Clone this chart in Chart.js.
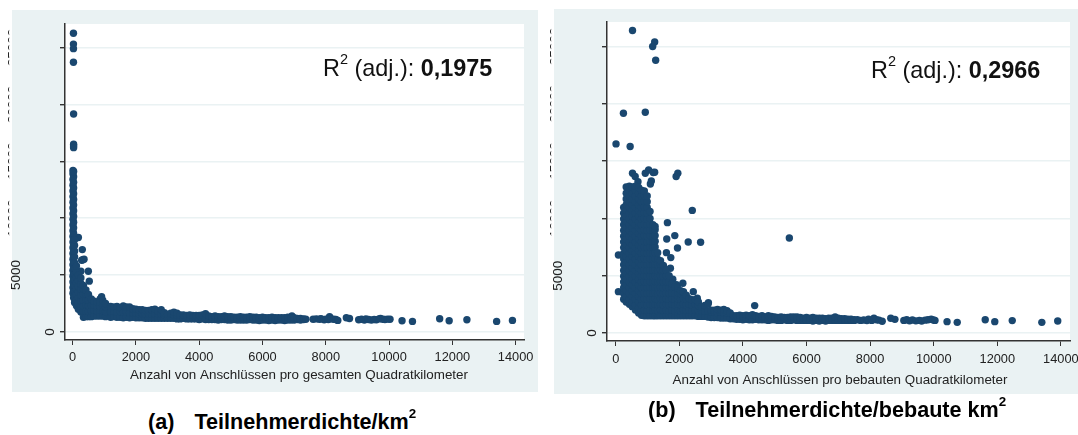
<!DOCTYPE html>
<html>
<head>
<meta charset="utf-8">
<script src="https://cdn.jsdelivr.net/npm/chart.js@4/dist/chart.umd.min.js"></script>
<style>
body { margin: 0; background: #fff; width: 1078px; height: 435px; overflow: hidden; font-family: 'Liberation Sans', Arial, sans-serif; }
canvas { position: absolute; }
#chartA { left: 0; top: 0; }
#chartB { left: 545px; top: 0; }
.note, .cap { position: absolute; white-space: pre; color: #000; line-height: 1; }
.note { font-size: 23.4px; color: #111; }
.cap { font-size: 21.6px; font-weight: bold; }
.cap span { margin-left: 20px; }
sup { font-size: 62%; line-height: 0; vertical-align: baseline; position: relative; top: -0.8em; }
</style>
</head>
<body>
<canvas id="chartA" width="540" height="395"></canvas>
<canvas id="chartB" width="533" height="400"></canvas>
<div class="note" style="left:323px;top:57px">R<sup>2</sup> (adj.): <b>0,1975</b></div>
<div class="note" style="left:871px;top:59px">R<sup>2</sup> (adj.): <b>0,2966</b></div>
<div class="cap" style="left:148px;top:411px">(a)<span>Teilnehmerdichte/km<sup>2</sup></span></div>
<div class="cap" style="left:648px;top:399px">(b)<span>Teilnehmerdichte/bebaute km<sup>2</sup></span></div>
<script>
const colorNavy = '#1a476f';
const colorPanel = '#eaf2f3';
const colorAxis = '#333333';

const xTicks = [0, 2000, 4000, 6000, 8000, 10000, 12000, 14000];
const yTicks = [0, 5000, 10000, 15000, 20000, 25000];
const xTitleA = 'Anzahl von Anschlüssen pro gesamten Quadratkilometer';
const xTitleB = 'Anzahl von Anschlüssen pro bebauten Quadratkilometer';

// ================ PANEL A: single points [x, y] =====================
const singlesA = [
    [25, 26250], [25, 25300], [25, 24900], [25, 23700], [30, 19150],
    [30, 16500], [30, 16350], [30, 16200],
    [180, 8300], [305, 7240], [285, 6300], [320, 6350], [360, 6400],
    [260, 5340], [495, 5340], [525, 4470], [915, 3100], [870, 2900],
    [6930, 1400], [8120, 1340], [8650, 1255], [8750, 1180],
    [10410, 990], [10740, 930], [11600, 1170], [11900, 990], [12460, 1080], [13400, 930], [13900, 1020]
];
// Dense part: every row is one x followed by its y values
const massA = [
    [10, 3400, 3900, 4400, 4900, 5400, 5900, 6400, 6900, 7400, 7900, 8400, 8900, 9400, 9900, 10400, 10900, 11400, 11900, 12400, 12900, 13400, 13900, 14200],
    [30, 3000, 3650, 4150, 4650, 5150, 5650, 6150, 6650, 7150, 7650, 8150, 8650, 9150, 9650, 10150, 10650, 11150, 11650, 12150, 12650, 13150, 13650, 14100],
    [60, 2600, 3100, 3600, 4100, 4600, 5100, 5600, 6100, 6600, 7100, 7600, 8100],
    [120, 2300, 2800, 3300, 3800, 4300, 4800, 5300, 5800],
    [180, 2000, 2500, 3000, 3500, 4000, 4500, 5000],
    [260, 1750, 2250, 2750, 3250, 3750, 4250, 4750],
    [340, 1300, 1800, 2300, 2800, 3300, 3800, 4100],
    [420, 1350, 1850, 2350, 2850, 3350, 3700],
    [500, 1350, 1800, 2300, 2800, 3300],
    [590, 1350, 1850, 2350, 2900],
    [680, 1400, 1900, 2300, 2700],
    [770, 1400, 1850, 2250, 2650],
    [860, 1400, 1900, 2300, 2600],
    [950, 1400, 1850, 2350, 2800],
    [1040, 1350, 1800, 2200, 2500],
    [1200, 1300, 1750, 2250],
    [1300, 1350, 1800, 2200],
    [1400, 1300, 1750, 2250],
    [1500, 1300, 1800, 2150],
    [1600, 1250, 1750, 2300],
    [1700, 1300, 1750, 2200],
    [1800, 1250, 1700, 2200],
    [1900, 1300, 1700, 2050],
    [2000, 1250, 1650, 2000],
    [2100, 1250, 1600, 1950],
    [2200, 1250, 1600, 1950],
    [2300, 1200, 1550, 1900],
    [2400, 1200, 1600, 1900],
    [2500, 1200, 1550, 1950],
    [2600, 1200, 1600, 2000],
    [2700, 1200, 1550, 1850],
    [2800, 1200, 1550, 1950],
    [2900, 1200, 1500, 1700],
    [3000, 1200, 1550],
    [3100, 1200, 1550, 1650],
    [3200, 1200, 1500, 1750],
    [3300, 1150, 1500, 1650],
    [3400, 1150, 1500],
    [3500, 1200, 1500],
    [3600, 1150, 1450],
    [3700, 1150, 1500],
    [3800, 1150, 1450],
    [3900, 1150, 1450],
    [4000, 1100, 1450],
    [4100, 1150, 1500],
    [4200, 1100, 1600],
    [4300, 1100, 1400],
    [4400, 1100, 1350],
    [4500, 1100, 1400],
    [4600, 1050, 1350],
    [4700, 1100, 1350],
    [4800, 1100, 1400],
    [4900, 1050, 1350],
    [5000, 1050, 1350],
    [5100, 1100, 1300],
    [5200, 1050, 1300],
    [5300, 1050, 1350],
    [5400, 1050, 1300],
    [5500, 1050, 1300],
    [5600, 1100, 1350],
    [5700, 1050, 1300],
    [5800, 1050, 1300],
    [5900, 1000, 1250],
    [6000, 1050, 1300],
    [6100, 1050, 1250],
    [6200, 1000, 1250],
    [6300, 1050, 1300],
    [6400, 1000, 1250],
    [6500, 1050, 1250],
    [6600, 1050, 1250],
    [6700, 1000, 1250],
    [6800, 1050, 1300],
    [6900, 1050, 1250],
    [7000, 1050, 1250],
    [7100, 1100, 1200],
    [7200, 1050, 1200],
    [7300, 1100, 1150],
    [7370, 1120],
    [7600, 1120], [7700, 1150], [7800, 1120], [7850, 1160], [7950, 1080], [8000, 1130],
    [8080, 1100], [8170, 1150], [8250, 1120], [8320, 1100], [8380, 1020],
    [9040, 1080], [9130, 1120], [9220, 1060], [9270, 1150], [9350, 1100], [9440, 1060],
    [9530, 1100], [9600, 1070], [9680, 1150], [9730, 1200], [9800, 1120], [9870, 1100], [9950, 1130], [10030, 1120]
];

// ================ PANEL B: single points [x, y] =====================
const singlesB = [
    [528, 26390], [1225, 25400], [1162, 25000], [1257, 23800], [243, 19180], [930, 19260],
    [10, 16500], [454, 16270],
    [528, 13940], [612, 13650], [700, 13200], [1035, 14230], [930, 13940], [1225, 14030], [1180, 14000],
    [1953, 13940], [1900, 13650], [1120, 13270], [1090, 13000], [2408, 10700],
    [1626, 9630], [1605, 8200], [1858, 8500], [2280, 7940], [2670, 7915], [1943, 7420],
    [1595, 7010], [1732, 6580], [5460, 8290], [4370, 2390],
    [85, 6800], [85, 3610], [2440, 3610], [2112, 4335], [1910, 4220], [1795, 4685], [1720, 5645],
    [2566, 3030], [2915, 2650],
    [8650, 1290], [8780, 1190],
    [10420, 990], [10740, 930], [11620, 1160], [11920, 990], [12470, 1080], [13400, 930], [13900, 1050]
];
const massB = [
    [250, 2950, 3450, 3950, 4450, 4950, 5450, 5950, 6450, 6950, 7450, 7950, 8450, 8950, 9450, 9950, 10450, 10950],
    [330, 2700, 3200, 3700, 4200, 4700, 5200, 5700, 6200, 6700, 7200, 7700, 8200, 8700, 9200, 9700, 10200, 10700, 11200, 11700, 12200, 12750],
    [430, 2500, 2950, 3450, 3950, 4450, 4950, 5450, 5950, 6450, 6950, 7450, 7950, 8450, 8950, 9450, 9950, 10450, 10950, 11450, 11950, 12450, 12800],
    [520, 2300, 2700, 3200, 3700, 4200, 4700, 5200, 5700, 6200, 6700, 7200, 7700, 8200, 8700, 9200, 9700, 10200, 10700, 11200, 11700, 12200, 12750],
    [620, 2000, 2450, 2950, 3450, 3950, 4450, 4950, 5450, 5950, 6450, 6950, 7450, 7950, 8450, 8950, 9450, 9950, 10450, 10950, 11450, 11950, 12450, 12800],
    [720, 1750, 2200, 2700, 3200, 3700, 4200, 4700, 5200, 5700, 6200, 6700, 7200, 7700, 8200, 8700, 9200, 9700, 10200, 10700, 11200, 11700, 12200, 12700],
    [810, 1550, 1950, 2450, 2950, 3450, 3950, 4450, 4950, 5450, 5950, 6450, 6950, 7450, 7950, 8450, 8950, 9450, 9950, 10450, 10950, 11450, 11950, 12450],
    [900, 1500, 2000, 2500, 3000, 3500, 4000, 4500, 5000, 5500, 6000, 6500, 7000, 7500, 8000, 8500, 9000, 9500, 10000, 10500, 11000, 11500, 12000, 12400],
    [990, 1500, 1950, 2450, 2950, 3450, 3950, 4450, 4950, 5450, 5950, 6450, 6950, 7450, 7950, 8450, 8950, 9450, 9950, 10450, 10950, 11450, 11950],
    [1080, 1500, 2000, 2500, 3000, 3500, 4000, 4500, 5000, 5500, 6000, 6500, 7000, 7500, 8000, 8500, 9000, 9500, 10000, 10600],
    [1170, 1500, 1950, 2450, 2950, 3450, 3950, 4450, 4950, 5450, 5950, 6450, 6950, 7450, 7950, 8450, 8950, 9450],
    [1240, 1500, 2000, 2500, 3000, 3500, 4000, 4500, 5000, 5500, 6000, 6500, 7000, 7500, 8000, 8500, 9000, 9300],
    [1320, 1500, 1950, 2450, 2950, 3450, 3950, 4450, 4950, 5450, 5950, 6450, 7000],
    [1410, 1500, 2000, 2500, 3000, 3500, 4000, 4500, 5000, 5500, 6000, 6300],
    [1500, 1500, 1950, 2450, 2950, 3450, 3950, 4450, 4950, 5450, 5900],
    [1590, 1500, 2000, 2500, 3000, 3500, 4000, 4500, 5000, 5500],
    [1680, 1500, 1950, 2450, 2950, 3450, 3950, 4450, 5000],
    [1770, 1500, 2000, 2500, 3000, 3500, 4000, 4300],
    [1860, 1500, 1950, 2450, 2950, 3450, 4000],
    [1950, 1500, 2000, 2500, 3000, 3500, 3900],
    [2040, 1500, 1950, 2450, 2950, 3450, 3700],
    [2130, 1500, 2000, 2500, 3000, 3600],
    [2220, 1500, 1950, 2450, 2950, 3300],
    [2310, 1500, 2000, 2500, 3000],
    [2400, 1500, 1950, 2450, 2900],
    [2500, 1500, 2000, 2500, 2900],
    [2600, 1450, 1950, 2400, 2700],
    [2700, 1450, 1950, 2300],
    [2800, 1450, 1900, 2400],
    [2900, 1400, 1900, 2500],
    [3000, 1350, 1800, 2000],
    [3100, 1350, 1800, 2000],
    [3200, 1350, 1750, 2050],
    [3300, 1300, 1800, 2000],
    [3400, 1300, 1750, 2050],
    [3500, 1300, 1750, 1950],
    [3600, 1250, 1750],
    [3700, 1250, 1500],
    [3800, 1200, 1500],
    [3900, 1200, 1550],
    [4000, 1150, 1500],
    [4100, 1200, 1550],
    [4200, 1150, 1500],
    [4300, 1150, 1600],
    [4400, 1200, 1500],
    [4500, 1150, 1450],
    [4600, 1150, 1500],
    [4700, 1150, 1400],
    [4800, 1100, 1500],
    [4900, 1150, 1450],
    [5000, 1150, 1400],
    [5100, 1100, 1350],
    [5200, 1100, 1400],
    [5300, 1150, 1350],
    [5400, 1100, 1350],
    [5500, 1100, 1400],
    [5600, 1150, 1400],
    [5700, 1100, 1400],
    [5800, 1100, 1350],
    [5900, 1100, 1300],
    [6000, 1100, 1350],
    [6100, 1100, 1300],
    [6200, 1050, 1350],
    [6300, 1100, 1300],
    [6400, 1050, 1300],
    [6500, 1100, 1300],
    [6600, 1050, 1250],
    [6700, 1100, 1300],
    [6800, 1100, 1300],
    [6900, 1100, 1400],
    [7000, 1100, 1300],
    [7100, 1100, 1250],
    [7200, 1100, 1250],
    [7300, 1100, 1200],
    [7400, 1100, 1200],
    [7500, 1100, 1150],
    [7600, 1150], [7700, 1100], [7800, 1130], [7900, 1090], [7950, 1200], [8050, 1100],
    [8120, 1300], [8200, 1150], [8280, 1120], [8380, 1020],
    [9060, 1100], [9150, 1150], [9240, 1060], [9330, 1130], [9440, 1060], [9550, 1100],
    [9620, 1050], [9730, 1120], [9820, 1150], [9920, 1200], [9990, 1130], [10040, 1100]
];

function toPoints(singles, mass) {
    const points = singles.map(p => ({x: p[0], y: p[1]}));
    mass.forEach(row => {
        row.slice(1).forEach(y => points.push({x: row[0], y: y}));
    });
    return points;
}

// panel background, white plot area, rotated y labels and x axis title
const panelPlugin = {
    id: 'panel',
    beforeDraw(chart, args, opts) {
        const {ctx, chartArea} = chart;
        ctx.save();
        ctx.fillStyle = colorPanel;
        ctx.fillRect(opts.rect[0], opts.rect[1], opts.rect[2], opts.rect[3]);
        ctx.fillStyle = '#ffffff';
        ctx.fillRect(chartArea.left, chartArea.top, chartArea.width, chartArea.height);
        ctx.restore();
    },
    afterDraw(chart, args, opts) {
        const {ctx, scales} = chart;
        ctx.save();
        ctx.fillStyle = '#222222';
        ctx.textAlign = 'center';
        ctx.textBaseline = 'alphabetic';
        ctx.font = '13.5px "Liberation Sans"';
        yTicks.forEach(v => {
            const py = scales.y.getPixelForValue(v);
            const bx = v === 0 ? opts.zeroX : opts.fiveX;
            ctx.save();
            // the labels above 5000 are cut off in the source, only a sliver shows
            if (v > 5000) {
                ctx.beginPath();
                ctx.rect(opts.sliverX, 0, 2.2, 300);
                ctx.clip();
            }
            ctx.translate(v > 5000 ? opts.sliverX + 10 : bx, py);
            ctx.rotate(-Math.PI / 2);
            ctx.fillText(String(v), 0, 0);
            ctx.restore();
        });
        ctx.font = '13.4px "Liberation Sans"';
        ctx.fillText(opts.title, opts.titleX, opts.titleY);
        ctx.restore();
    }
};

function makeChart(id, points, xRange, yRange, area, panel) {
    return new Chart(document.getElementById(id), {
        type: 'scatter',
        data: {
            datasets: [{
                data: points,
                pointRadius: 3.7,
                pointBorderWidth: 0,
                pointBackgroundColor: colorNavy,
                showLine: false
            }]
        },
        plugins: [panelPlugin],
        options: {
            responsive: false,
            animation: false,
            layout: {padding: {left: 0, right: area.right, top: area.top, bottom: 0}},
            plugins: {
                legend: {display: false},
                tooltip: {enabled: false},
                panel: panel
            },
            scales: {
                x: {
                    type: 'linear',
                    min: xRange[0],
                    max: xRange[1],
                    afterBuildTicks(scale) { scale.ticks = xTicks.map(v => ({value: v})); },
                    afterFit(scale) { scale.height = area.below; scale.paddingLeft = 0; scale.paddingRight = 0; },
                    border: {color: colorAxis, width: 1.5},
                    grid: {drawOnChartArea: false, tickColor: colorAxis, tickLength: 5},
                    ticks: {
                        color: '#222222',
                        font: {family: 'Liberation Sans', size: 12.8},
                        maxRotation: 0,
                        autoSkip: false,
                        padding: area.tickPad,
                        callback: v => String(v)
                    }
                },
                y: {
                    type: 'linear',
                    min: yRange[0],
                    max: yRange[1],
                    afterBuildTicks(scale) { scale.ticks = yTicks.map(v => ({value: v})); },
                    afterFit(scale) { scale.width = area.left; scale.paddingTop = 0; scale.paddingBottom = 0; },
                    border: {color: colorAxis, width: 1.5},
                    grid: {color: colorPanel, lineWidth: 1.4, tickColor: colorAxis, tickLength: 5},
                    ticks: {display: false}
                }
            }
        }
    });
}

const chartA = makeChart('chartA', toPoints(singlesA, massA),
    [-242, 14265], [-703, 27065],
    {left: 65, right: 16, top: 24, below: 55, tickPad: 4.5},
    {rect: [12, 10, 526, 382], zeroX: 54, fiveX: 20, sliverX: 7, title: xTitleA, titleX: 299, titleY: 378.5});

const chartB = makeChart('chartB', toPoints(singlesB, massB),
    [-274, 14286], [-698, 27138],
    {left: 62, right: 8, top: 22, below: 59, tickPad: 6},
    {rect: [9, 9, 524, 385], zeroX: 51, fiveX: 17, sliverX: 4, title: xTitleB, titleX: 295, titleY: 383.5});
</script>
</body>
</html>
